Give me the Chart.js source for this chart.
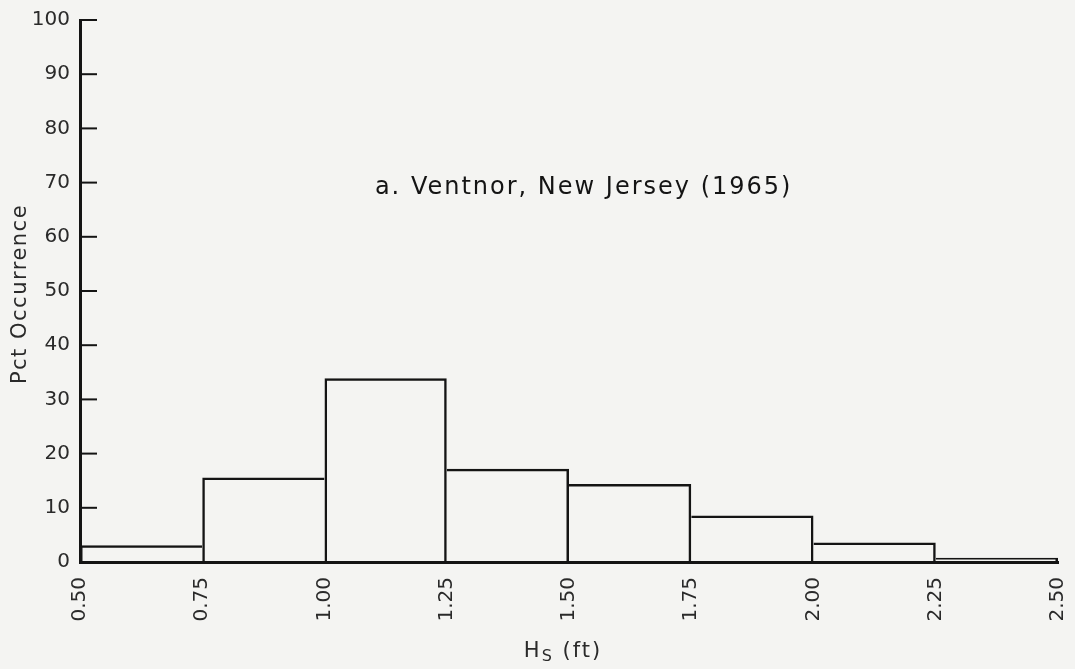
<!DOCTYPE html>
<html>
<head>
<meta charset="utf-8">
<title>Ventnor wave height histogram</title>
<script src="https://cdn.jsdelivr.net/npm/chart.js@4.4.1/dist/chart.umd.min.js"></script>
<style>
  html, body { margin: 0; padding: 0; background: #f4f4f2; }
  canvas { display: block; }
</style>
</head>
<body>
<canvas id="hist" width="1075" height="669"></canvas>
<script>
// bin edges (ft) and percent occurrence per bin
const binLow = [0.50, 0.75, 1.00, 1.25, 1.50, 1.75, 2.00, 2.25];
const binHigh = [0.75, 1.00, 1.25, 1.50, 1.75, 2.00, 2.25, 2.50];
const pctOccurrence = [3.1, 15.6, 33.9, 17.2, 14.4, 8.6, 3.6, 0.8];
const yTicks = [0, 10, 20, 30, 40, 50, 60, 70, 80, 90, 100];
const noteText = 'a. Ventnor, New Jersey (1965)';
const notePos = { x: 1.53, y: 69 };

const ink = '#141414';
const labelInk = '#2a2a2a';
const font = 'DejaVu Sans';
const last = pctOccurrence.length - 1;
const lineW = 2.5;

const bars = binLow.map((lo, i) => ({ x: (lo + binHigh[i]) / 2, y: pctOccurrence[i] }));

// a shared edge between two bins is drawn once, by the taller bin
function barBorder(ctx) {
    const i = ctx.dataIndex;
    const h = pctOccurrence;
    return {
        top: lineW,
        bottom: 0,
        left: (i === 0 || h[i] > h[i - 1]) ? lineW : 0,
        right: (i === last || h[i] >= h[i + 1]) ? lineW : 0
    };
}

// page background
const paperBg = {
    id: 'paperBg',
    beforeDraw(chart) {
        const ctx = chart.ctx;
        ctx.save();
        ctx.fillStyle = '#f4f4f2';
        ctx.fillRect(0, 0, chart.width, chart.height);
        ctx.restore();
    }
};

// inward ticks on the y axis, axis titles and the note
const extras = {
    id: 'extras',
    afterDraw(chart) {
        const ctx = chart.ctx;
        const x = chart.scales.x, y = chart.scales.y;
        ctx.save();
        ctx.strokeStyle = ink;
        ctx.lineWidth = 2;
        yTicks.forEach(v => {
            const py = y.getPixelForValue(v);
            ctx.beginPath();
            ctx.moveTo(x.left, py);
            ctx.lineTo(x.left + 17, py);
            ctx.stroke();
        });

        ctx.fillStyle = ink;
        ctx.letterSpacing = '2px';
        ctx.font = '24px "' + font + '"';
        ctx.textAlign = 'center';
        ctx.textBaseline = 'middle';
        ctx.fillText(noteText, x.getPixelForValue(notePos.x), y.getPixelForValue(notePos.y));

        // y title
        ctx.fillStyle = labelInk;
        ctx.letterSpacing = '1.5px';
        ctx.font = '21px "' + font + '"';
        ctx.save();
        ctx.translate(21, (y.top + y.bottom) / 2 + 3);
        ctx.rotate(-Math.PI / 2);
        ctx.fillText('Pct Occurrence', 0, 0);
        ctx.restore();

        // H_S (ft)
        const cx = (x.left + x.right) / 2 - 6;
        const base = 657;
        ctx.textAlign = 'left';
        ctx.textBaseline = 'alphabetic';
        ctx.letterSpacing = '2px';
        ctx.font = '21px "' + font + '"';
        const wH = ctx.measureText('H').width;
        const wRest = ctx.measureText(' (ft)').width;
        ctx.font = '16px "' + font + '"';
        const wS = ctx.measureText('S').width;
        let px = cx - (wH + wS + wRest) / 2;
        ctx.font = '21px "' + font + '"';
        ctx.fillText('H', px, base);
        px += wH;
        ctx.font = '16px "' + font + '"';
        ctx.fillText('S', px, base + 4);
        px += wS;
        ctx.font = '21px "' + font + '"';
        ctx.fillText(' (ft)', px, base);
        ctx.restore();
    }
};

new Chart(document.getElementById('hist'), {
    type: 'bar',
    data: {
        datasets: [{
            data: bars,
            backgroundColor: 'rgba(0,0,0,0)',
            borderColor: ink,
            borderWidth: barBorder,
            inflateAmount: 0,
            barPercentage: 1.0,
            categoryPercentage: 1.0
        }]
    },
    options: {
        responsive: false,
        animation: false,
        layout: { padding: { left: 0, right: 17, top: 20, bottom: 0 } },
        plugins: {
            legend: { display: false },
            tooltip: { enabled: false }
        },
        scales: {
            x: {
                type: 'linear',
                min: 0.5,
                max: 2.5,
                offset: false,
                afterFit: s => { s.height = 107; s.paddingRight = 0; s.paddingLeft = 0; },
                afterBuildTicks: s => { s.ticks = binLow.concat([binHigh[last]]).map(v => ({ value: v })); },
                grid: { display: true, drawOnChartArea: false, drawTicks: false },
                border: { display: true, color: ink, width: 3 },
                ticks: {
                    minRotation: 90,
                    maxRotation: 90,
                    padding: 15,
                    color: labelInk,
                    font: { family: font, size: 20 },
                    callback: v => Number(v).toFixed(2)
                }
            },
            y: {
                min: 0,
                max: 100,
                afterFit: s => { s.width = 80; s.paddingTop = 0; s.paddingBottom = 0; },
                afterBuildTicks: s => { s.ticks = yTicks.map(v => ({ value: v })); },
                grid: { display: true, drawOnChartArea: false, drawTicks: false },
                border: { display: true, color: ink, width: 3 },
                ticks: {
                    padding: 10,
                    color: labelInk,
                    font: { family: font, size: 20 }
                }
            }
        }
    },
    plugins: [paperBg, extras]
});
</script>
</body>
</html>
